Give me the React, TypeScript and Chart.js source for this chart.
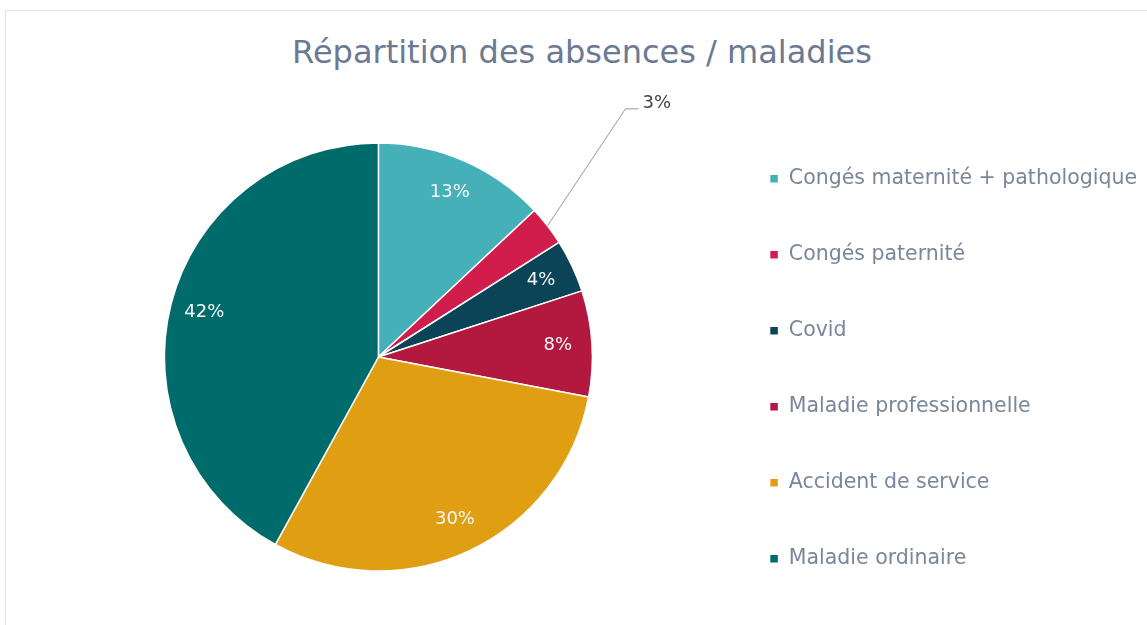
import { useEffect, useRef } from 'react';
import { Chart, registerables } from 'chart.js';

Chart.register(...registerables);

const chartTitle = 'Répartition des absences / maladies';
const categories = [
  'Congés maternité + pathologique',
  'Congés paternité',
  'Covid',
  'Maladie professionnelle',
  'Accident de service',
  'Maladie ordinaire',
];
const shares = [13, 3, 4, 8, 30, 42];
const sliceColors = ['#45B0B7', '#D01D4C', '#0B4357', '#B3183F', '#E09F12', '#006B6B'];

const FONT = '"DejaVu Sans", sans-serif';

const sliceLabels = {
  id: 'sliceLabels',
  afterDatasetsDraw(chart: any) {
    const ctx = chart.ctx;
    const meta = chart.getDatasetMeta(0);
    const values = chart.data.datasets[0].data as number[];
    ctx.save();
    meta.data.forEach((arc: any, i: number) => {
      const { x, y, startAngle, endAngle, outerRadius } = arc.getProps(
        ['x', 'y', 'startAngle', 'endAngle', 'outerRadius'],
        true
      );
      const mid = (startAngle + endAngle) / 2;
      const text = values[i] + '%';
      if (values[i] < 3.5) {
        const ax = x + Math.cos(mid) * outerRadius;
        const ay = y + Math.sin(mid) * outerRadius;
        const ex = ax + 78;
        const ey = ay - 117;
        ctx.strokeStyle = '#8d97aa';
        ctx.lineWidth = 1;
        ctx.beginPath();
        ctx.moveTo(ax, ay);
        ctx.lineTo(ex, ey);
        ctx.lineTo(ex + 13, ey);
        ctx.stroke();
        ctx.fillStyle = '#444444';
        ctx.font = `18px ${FONT}`;
        ctx.textAlign = 'left';
        ctx.textBaseline = 'middle';
        ctx.fillText(text, ex + 17, ey - 6);
      } else {
        const r = outerRadius * 0.84;
        ctx.fillStyle = '#f4f8f8';
        ctx.font = `18px ${FONT}`;
        ctx.textAlign = 'center';
        ctx.textBaseline = 'middle';
        ctx.fillText(text, x + Math.cos(mid) * r, y + Math.sin(mid) * r);
      }
    });
    ctx.restore();
  },
};

export default function App() {
  const canvasRef = useRef<HTMLCanvasElement | null>(null);

  useEffect(() => {
    if (!canvasRef.current) return;
    const chart = new Chart(canvasRef.current, {
      type: 'pie',
      data: {
        labels: categories,
        datasets: [
          {
            data: shares,
            backgroundColor: sliceColors,
            borderColor: '#ffffff',
            borderWidth: 1.5,
          },
        ],
      },
      options: {
        animation: false,
        responsive: true,
        maintainAspectRatio: false,
        radius: 214,
        layout: { padding: { left: 42.75, right: 0, top: 80, bottom: 0 } },
        plugins: {
          title: { display: false },
          legend: {
            position: 'right',
            align: 'start',
            title: {
              display: true,
              text: ' ',
              font: { size: 10, lineHeight: 3.3 },
              padding: 0,
            },
            labels: {
              color: '#7a869b',
              font: { family: FONT, size: 20.5 },
              boxWidth: 9,
              boxHeight: 9,
              padding: 55.5,
            },
          },
          tooltip: { enabled: false },
        },
      },
      plugins: [sliceLabels],
    });
    return () => chart.destroy();
  }, []);

  return (
    <div style={{ position: 'fixed', inset: 0, overflow: 'hidden', background: '#ffffff' }}>
      <div
        style={{
          position: 'absolute',
          left: 5,
          top: 10,
          width: 3000,
          height: 3000,
          border: '1px solid #e2e5eb',
        }}
      />
      <div
        style={{
          position: 'absolute',
          left: 0,
          top: 32,
          width: 1164,
          textAlign: 'center',
          fontFamily: FONT,
          fontSize: 32,
          lineHeight: '40px',
          color: '#6b7a92',
          whiteSpace: 'nowrap',
        }}
      >
        {chartTitle}
      </div>
      <div style={{ position: 'absolute', left: 0, top: 0, width: 1147, height: 634 }}>
        <canvas ref={canvasRef} />
      </div>
    </div>
  );
}
